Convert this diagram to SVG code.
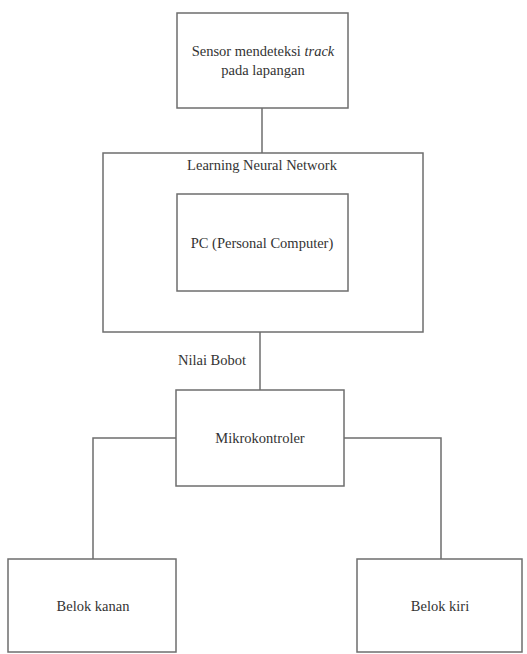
<svg xmlns="http://www.w3.org/2000/svg" width="527" height="654" viewBox="0 0 527 654" font-family="Liberation Serif, DejaVu Serif, serif">
<style>
.box{fill:#fff;stroke:#6e6e6e;stroke-width:1.5}
.ln{fill:none;stroke:#6e6e6e;stroke-width:1.5}
.t{font-size:14.5px;fill:#333;text-anchor:middle}
</style>
<rect width="527" height="654" fill="#fff"/>
<g id="connectors">
<line class="ln" x1="262" y1="108" x2="262" y2="153"/>
<line class="ln" x1="260" y1="332" x2="260" y2="390"/>
<polyline class="ln" points="176,438 93,438 93,559"/>
<polyline class="ln" points="344,438 441,438 441,559"/>
<text class="t" x="212" y="365">Nilai Bobot</text>
</g>
<g id="sensor">
<rect class="box" x="177" y="13" width="171" height="95"/>
<text class="t" x="263" y="56">Sensor mendeteksi <tspan font-style="italic">track</tspan></text>
<text class="t" x="263" y="75">pada lapangan</text>
</g>
<g id="lnn">
<rect class="box" x="103" y="153" width="320" height="179"/>
<text class="t" x="262" y="170">Learning Neural Network</text>
</g>
<g id="pc">
<rect class="box" x="177" y="194" width="171" height="97"/>
<text class="t" x="262" y="248">PC (Personal Computer)</text>
</g>
<g id="mikro">
<rect class="box" x="176" y="390" width="168" height="96"/>
<text class="t" x="260" y="443">Mikrokontroler</text>
</g>
<g id="kanan">
<rect class="box" x="8" y="559" width="168" height="93"/>
<text class="t" x="93" y="611">Belok kanan</text>
</g>
<g id="kiri">
<rect class="box" x="357" y="559" width="165" height="93"/>
<text class="t" x="440" y="611">Belok kiri</text>
</g>
</svg>
